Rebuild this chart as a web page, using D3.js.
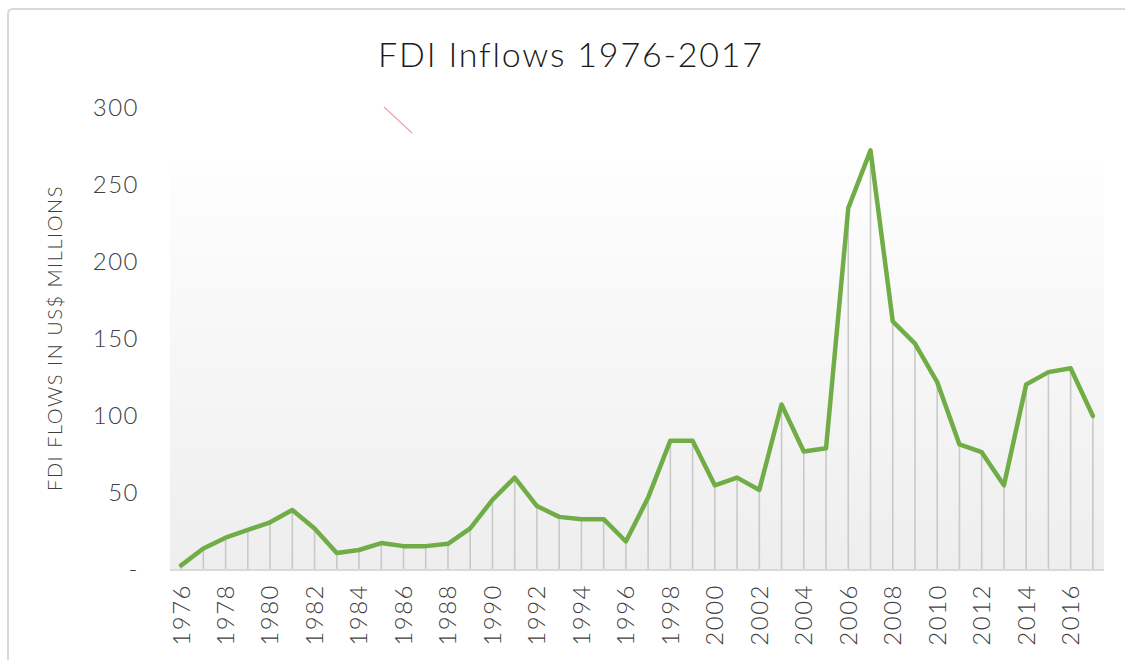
<!DOCTYPE html>
<html>
<head>
<meta charset="utf-8">
<script src="https://cdn.jsdelivr.net/npm/d3@7"></script>
<style>
  body { margin: 0; background: #fff; }
  svg { display: block; font-family: Lato, "Open Sans", sans-serif; }
</style>
</head>
<body>
<svg id="chart" width="1125" height="660"></svg>
<script>
// data
var years = [1976, 1977, 1978, 1979, 1980, 1981, 1982, 1983, 1984, 1985,
  1986, 1987, 1988, 1989, 1990, 1991, 1992, 1993, 1994, 1995,
  1996, 1997, 1998, 1999, 2000, 2001, 2002, 2003, 2004, 2005,
  2006, 2007, 2008, 2009, 2010, 2011, 2012, 2013, 2014, 2015,
  2016, 2017];
var fdi = [3, 14, 21, 26, 31, 39, 27, 11, 13, 17.5,
  15.5, 15.5, 17, 27, 45.5, 60, 41.5, 34.5, 33, 33,
  18.5, 47, 84, 84, 55, 60, 52, 107.5, 77, 79,
  235, 272.5, 161.5, 147, 122, 81.5, 76.5, 55, 120.5, 128.5,
  131, 100];
var yTicks = [0, 50, 100, 150, 200, 250, 300];
var xLabels = [1976, 1978, 1980, 1982, 1984, 1986, 1988, 1990, 1992, 1994,
  1996, 1998, 2000, 2002, 2004, 2006, 2008, 2010, 2012, 2014, 2016];

var svg = d3.select("#chart");

// frame of the chart object
svg.append("path")
  .attr("d", "M8,660 L8,14 Q8,9 13,9 L1125,9")
  .attr("fill", "none")
  .attr("stroke", "#d9d9d9")
  .attr("stroke-width", 2);

var plotL = 170, plotR = 1104, plotT = 108, plotB = 570;

var x = d3.scaleBand().domain(years).range([plotL, plotR]);
var y = d3.scaleLinear().domain([0, 300]).range([plotB, plotT]);
var cx = function (d, i) { return x(years[i]) + x.bandwidth() / 2; };

// plot area gradient
var defs = svg.append("defs");
var grad = defs.append("linearGradient")
  .attr("id", "bg")
  .attr("x1", 0).attr("y1", 0).attr("x2", 0).attr("y2", 1);
grad.append("stop").attr("offset", "0%").attr("stop-color", "#fefefe");
grad.append("stop").attr("offset", "100%").attr("stop-color", "#eeeeee");

svg.append("rect")
  .attr("x", plotL)
  .attr("y", 160)
  .attr("width", plotR - plotL)
  .attr("height", plotB - 160)
  .attr("fill", "url(#bg)");

// title
svg.append("text")
  .attr("x", 571)
  .attr("y", 67)
  .attr("text-anchor", "middle")
  .attr("font-size", 34)
  .attr("font-weight", 300)
  .attr("letter-spacing", 1.8)
  .attr("fill", "#1a1a1a")
  .text("FDI Inflows 1976-2017");

// stray red stroke
svg.append("line")
  .attr("x1", 384).attr("y1", 107)
  .attr("x2", 412).attr("y2", 133)
  .attr("stroke", "#f4a0a0")
  .attr("stroke-width", 1.2);

// y axis labels
var yAxis = d3.axisLeft(y)
  .tickValues(yTicks)
  .tickSize(0)
  .tickPadding(0)
  .tickFormat(function (d) { return d === 0 ? "-" : d; });

var gy = svg.append("g")
  .attr("transform", "translate(139,0)")
  .call(yAxis);
gy.select(".domain").remove();
gy.selectAll("text")
  .attr("font-size", 24)
  .attr("font-weight", 300)
  .attr("letter-spacing", 1.5)
  .attr("font-family", "Lato, sans-serif")
  .attr("fill", "#404040");

// y axis title
svg.append("text")
  .attr("transform", "translate(62,338) rotate(-90)")
  .attr("text-anchor", "middle")
  .attr("font-size", 20)
  .attr("font-weight", 300)
  .attr("letter-spacing", 1.5)
  .attr("fill", "#404040")
  .text("FDI FLOWS IN US$ MILLIONS");

// drop lines
svg.append("g")
  .selectAll("line")
  .data(fdi)
  .enter()
  .append("line")
  .attr("x1", cx)
  .attr("x2", cx)
  .attr("y1", function (d) { return y(d); })
  .attr("y2", plotB)
  .attr("stroke", "#c9c9c9")
  .attr("stroke-width", 1.6);

// baseline
svg.append("line")
  .attr("x1", plotL).attr("x2", plotR)
  .attr("y1", plotB).attr("y2", plotB)
  .attr("stroke", "#d9d9d9")
  .attr("stroke-width", 2);

// x axis labels
var xAxis = d3.axisBottom(x)
  .tickValues(xLabels)
  .tickSize(0)
  .tickPadding(0);
var gx = svg.append("g")
  .attr("transform", "translate(0," + plotB + ")")
  .call(xAxis);
gx.select(".domain").remove();
gx.selectAll("text")
  .attr("font-size", 24)
  .attr("font-weight", 300)
  .attr("letter-spacing", 1.5)
  .attr("font-family", "Lato, sans-serif")
  .attr("fill", "#404040")
  .attr("text-anchor", "end")
  .attr("dy", "0.35em")
  .attr("transform", "translate(0,14) rotate(-90)")
  .attr("y", 0)
  .attr("x", 0);

// the line
var line = d3.line()
  .x(cx)
  .y(function (d) { return y(d); });

svg.append("path")
  .datum(fdi)
  .attr("d", line)
  .attr("fill", "none")
  .attr("stroke", "#70ad47")
  .attr("stroke-width", 4.5)
  .attr("stroke-linejoin", "round")
  .attr("stroke-linecap", "round");
</script>
</body>
</html>
